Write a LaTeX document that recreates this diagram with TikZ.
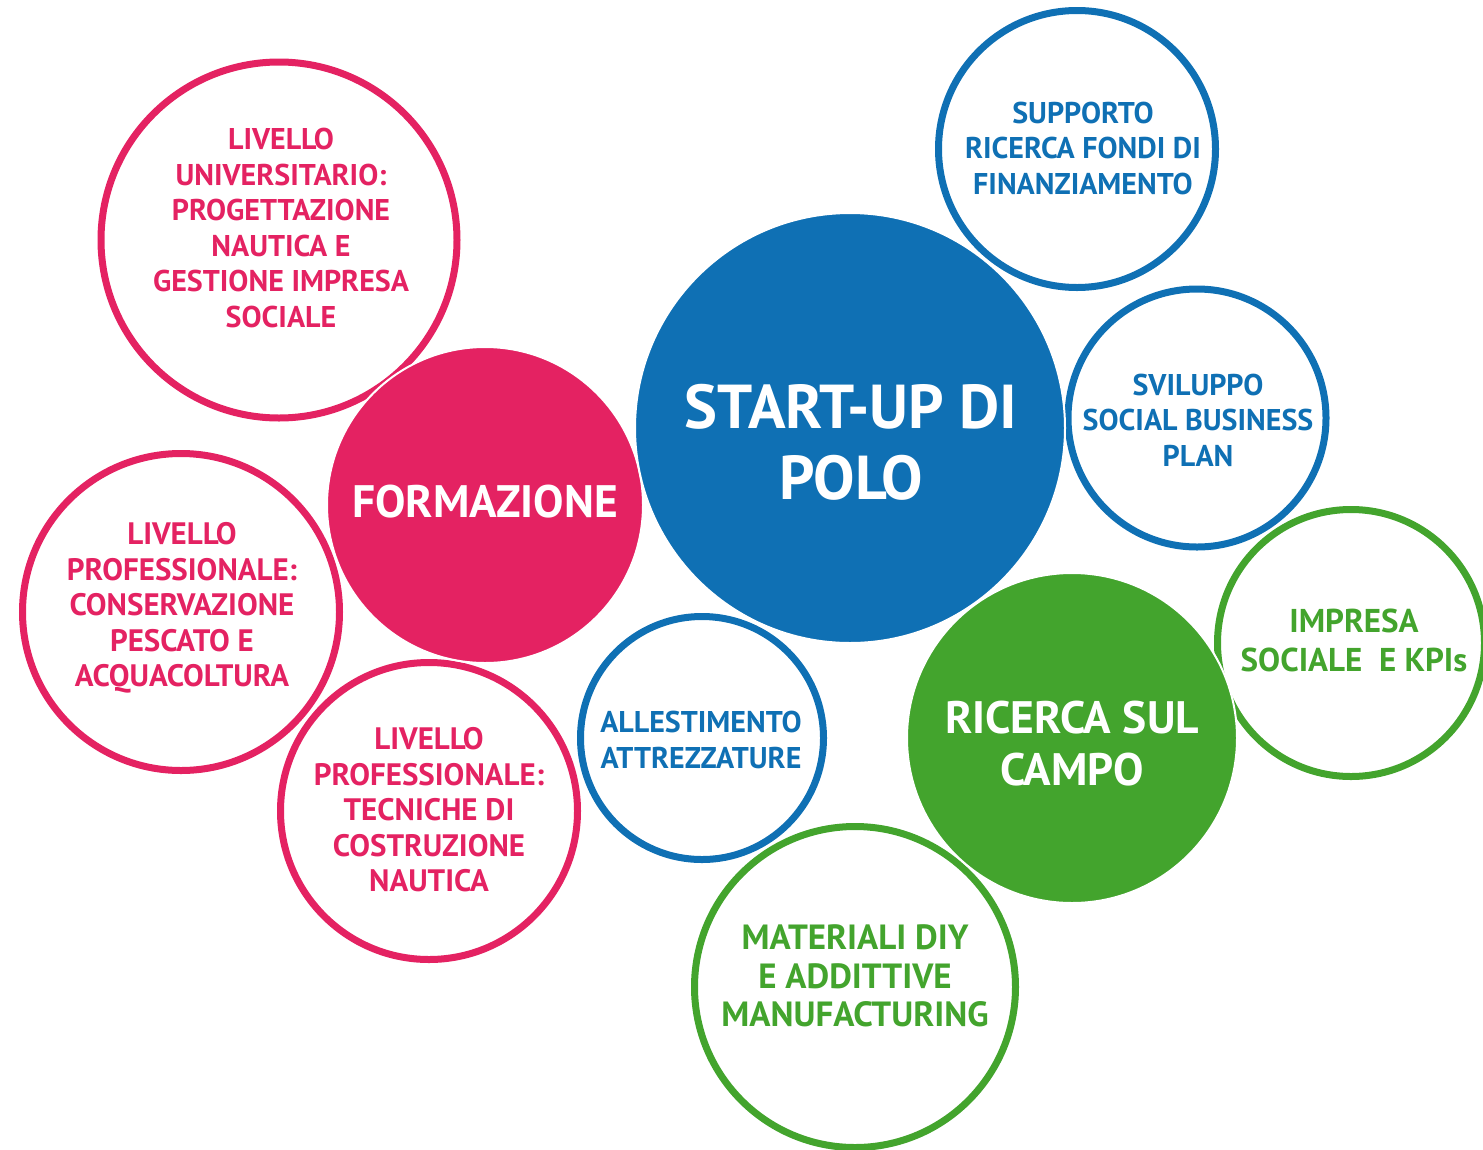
\documentclass[tikz,border=0pt]{standalone}
\usepackage{fontspec}
\setmainfont{PT Sans}
\definecolor{pk}{HTML}{E42262}
\definecolor{bl}{HTML}{0F70B4}
\definecolor{gr}{HTML}{43A42D}
\tikzset{
  ring/.style={circle, draw=#1, line width=7pt, inner sep=0pt},
  disc/.style={circle, fill=#1, draw=white, line width=2pt, inner sep=0pt},
  small/.style={text=#1, align=center, font=\bfseries\fontsize{30}{35.5}\selectfont},
  big/.style={text=white, align=center},
}
\begin{document}
\begin{tikzpicture}[x=1pt,y=-1pt]
\useasboundingbox (0,0) rectangle (1483,1149);
\begin{scope}
\clip (0,0) rectangle (1483,1149);
% outline circles
\node[ring=pk, minimum size=356pt] (c1) at (279,240) {};
\node[ring=pk, minimum size=317pt] (c10) at (181,612) {};
\node[ring=pk, minimum size=297pt] (c11) at (429,811) {};
\node[ring=bl, minimum size=277pt] (c4) at (1077,149) {};
\node[ring=bl, minimum size=258pt] (c5) at (1197,418) {};
\node[ring=gr, minimum size=267pt] (c6) at (1351,643) {};
\node[ring=bl, minimum size=243pt] (c8) at (702,738) {};
\node[ring=gr, minimum size=321pt] (c9) at (855,987) {};
% filled circles
\node[disc=pk, minimum size=316pt] (c2) at (485,505) {};
\node[disc=bl, minimum size=430pt] (c3) at (850,428) {};
\node[disc=gr, minimum size=330pt] (c7) at (1072,738) {};
\end{scope}
% texts
\node[small=pk] (t1) at (281,228) {LIVELLO\\UNIVERSITARIO:\\PROGETTAZIONE\\NAUTICA E\\GESTIONE IMPRESA\\SOCIALE};
\node[small=pk, font=\bfseries\fontsize{31}{35.5}\selectfont] (t10) at (182,608) {LIVELLO\\PROFESSIONALE:\\CONSERVAZIONE\\PESCATO E\\ACQUACOLTURA};
\node[small=pk, font=\bfseries\fontsize{31}{35.5}\selectfont] (t11) at (429,810) {LIVELLO\\PROFESSIONALE:\\TECNICHE DI\\COSTRUZIONE\\NAUTICA};
\node[small=bl] (t4) at (1083,148) {SUPPORTO\\RICERCA FONDI DI\\FINANZIAMENTO};
\node[small=bl] (t5) at (1198,420) {SVILUPPO\\SOCIAL BUSINESS\\PLAN};
\node[small=bl] (t8) at (701,740) {ALLESTIMENTO\\ATTREZZATURE};
\node[small=gr, font=\bfseries\fontsize{33}{39}\selectfont] (t6) at (1354,640) {IMPRESA\\SOCIALE\ \ E KPIs};
\node[small=gr, font=\bfseries\fontsize{35}{38.5}\selectfont] (t9) at (855,976) {MATERIALI DIY\\E ADDITTIVE\\MANUFACTURING};
\node[big, font=\bfseries\fontsize{45.5}{55}\selectfont] (t2) at (485,502) {FORMAZIONE};
\node[big, font=\bfseries\fontsize{62}{71}\selectfont] (t3) at (851,442) {START-UP DI\\POLO};
\node[big, font=\bfseries\fontsize{45.5}{52}\selectfont] (t7) at (1072,744) {RICERCA SUL\\CAMPO};
\end{tikzpicture}
\end{document}
